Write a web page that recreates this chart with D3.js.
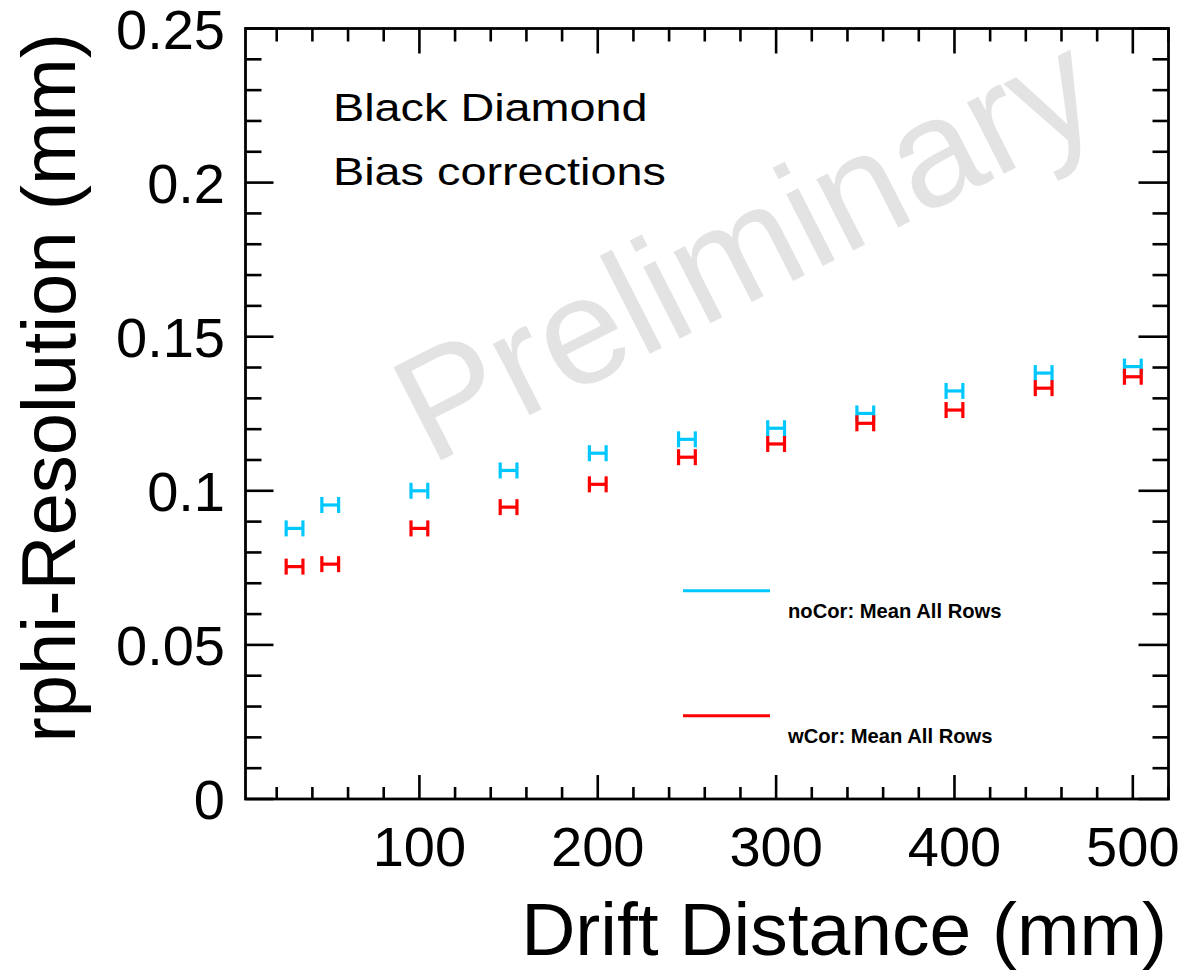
<!DOCTYPE html>
<html>
<head>
<meta charset="utf-8">
<script src="https://cdn.jsdelivr.net/npm/d3@7"></script>
<style>
  body { margin: 0; background: #fff; }
  svg { display: block; font-family: "Liberation Sans", Arial, Helvetica, sans-serif; }
</style>
</head>
<body>
<svg id="chart" width="1185" height="970"></svg>
<script>
// drift distance bins (mm)
var drift = [30, 50, 100, 150, 200, 250, 300, 350, 400, 450, 500];
// resolution without bias correction
var noCor = [0.0878, 0.0954, 0.1000, 0.1066, 0.1122, 0.1167, 0.1203, 0.1251, 0.1324, 0.1382, 0.1403];
// resolution with bias correction
var wCor = [0.0754, 0.0762, 0.0878, 0.0947, 0.1021, 0.1109, 0.1152, 0.1219, 0.1262, 0.1333, 0.1370];
var xErr = 4.7;

var xTicks = [100, 200, 300, 400, 500];
var yTicks = [0, 0.05, 0.1, 0.15, 0.2, 0.25];

var legendLabels = ["noCor: Mean All Rows", "wCor: Mean All Rows"];
var colors = ["#00c8ff", "#ff0000"];

var svg = d3.select("#chart");
var pLeft = 245.5, pRight = 1168.5, pTop = 28.5, pBottom = 799;

var x = d3.scaleLinear().domain([2.5, 520]).range([pLeft, pRight]);
var y = d3.scaleLinear().domain([0, 0.25]).range([pBottom, pTop]);

// watermark first so it sits behind
svg.append("text")
    .attr("transform", "translate(430,466) rotate(-27)")
    .attr("font-size", 152)
    .attr("fill", "#e3e3e3")
    .text("Preliminary");

// ticks
var tk = svg.append("g").attr("stroke", "#000").attr("stroke-width", 2.6);
var xMinor = d3.range(20, 521, 20);
xMinor.forEach(function (v) {
    var major = v % 100 == 0;
    tk.append("line").attr("x1", x(v)).attr("x2", x(v))
        .attr("y1", pBottom).attr("y2", pBottom - (major ? 24 : 12));
    tk.append("line").attr("x1", x(v)).attr("x2", x(v))
        .attr("y1", pTop).attr("y2", pTop + (major ? 25 : 13));
});
var yMinor = d3.range(0, 26).map(function (i) { return i / 100; });
yMinor.forEach(function (v, i) {
    var major = i % 5 == 0;
    tk.append("line").attr("y1", y(v)).attr("y2", y(v))
        .attr("x1", pLeft).attr("x2", pLeft + (major ? 28 : 16));
    tk.append("line").attr("y1", y(v)).attr("y2", y(v))
        .attr("x1", pRight).attr("x2", pRight - (major ? 30 : 16));
});

// frame
svg.append("rect")
    .attr("x", pLeft).attr("y", pTop)
    .attr("width", pRight - pLeft).attr("height", pBottom - pTop)
    .attr("fill", "none").attr("stroke", "#000").attr("stroke-width", 2.8);

// tick labels
svg.append("g").selectAll("text").data(xTicks).enter().append("text")
    .attr("x", d => x(d)).attr("y", 866)
    .attr("text-anchor", "middle").attr("font-size", 56)
    .text(d => d);
svg.append("g").selectAll("text").data(yTicks).enter().append("text")
    .attr("x", 225).attr("y", d => y(d))
    .attr("dy", "0.36em")
    .attr("text-anchor", "end").attr("font-size", 56)
    .text(d => d3.format("~g")(d));

// axis titles
svg.append("text")
    .attr("x", 1167).attr("y", 955)
    .attr("text-anchor", "end").attr("font-size", 75)
    .text("Drift Distance (mm)");
svg.append("text")
    .attr("transform", "translate(75,33) rotate(-90)")
    .attr("text-anchor", "end").attr("font-size", 76)
    .text("rphi-Resolution (mm)");

// labels (the original font runs wider)
svg.append("text").attr("transform", "translate(333,121) scale(1.2,1)")
    .attr("font-size", 39).text("Black Diamond");
svg.append("text").attr("transform", "translate(333,185) scale(1.2,1)")
    .attr("font-size", 39).text("Bias corrections");

// data points with x errors
function drawSeries(vals, col) {
    var g = svg.append("g").attr("stroke", col).attr("stroke-width", 3.2);
    drift.forEach(function (d, i) {
        var x1 = x(d - xErr), x2 = x(d + xErr), yy = y(vals[i]);
        g.append("line").attr("x1", x1).attr("x2", x2).attr("y1", yy).attr("y2", yy);
        g.append("line").attr("x1", x1).attr("x2", x1).attr("y1", yy - 8).attr("y2", yy + 8);
        g.append("line").attr("x1", x2).attr("x2", x2).attr("y1", yy - 8).attr("y2", yy + 8);
    });
}
drawSeries(noCor, colors[0]);
drawSeries(wCor, colors[1]);

// legend
var lgY = [590.7, 715.7];
legendLabels.forEach(function (lab, i) {
    svg.append("line")
        .attr("x1", 683).attr("x2", 770)
        .attr("y1", lgY[i]).attr("y2", lgY[i])
        .attr("stroke", colors[i]).attr("stroke-width", 3);
    svg.append("text")
        .attr("x", 788).attr("y", lgY[i] + 27.5)
        .attr("font-size", 20.2).attr("font-weight", "bold")
        .text(lab);
});
</script>
</body>
</html>
